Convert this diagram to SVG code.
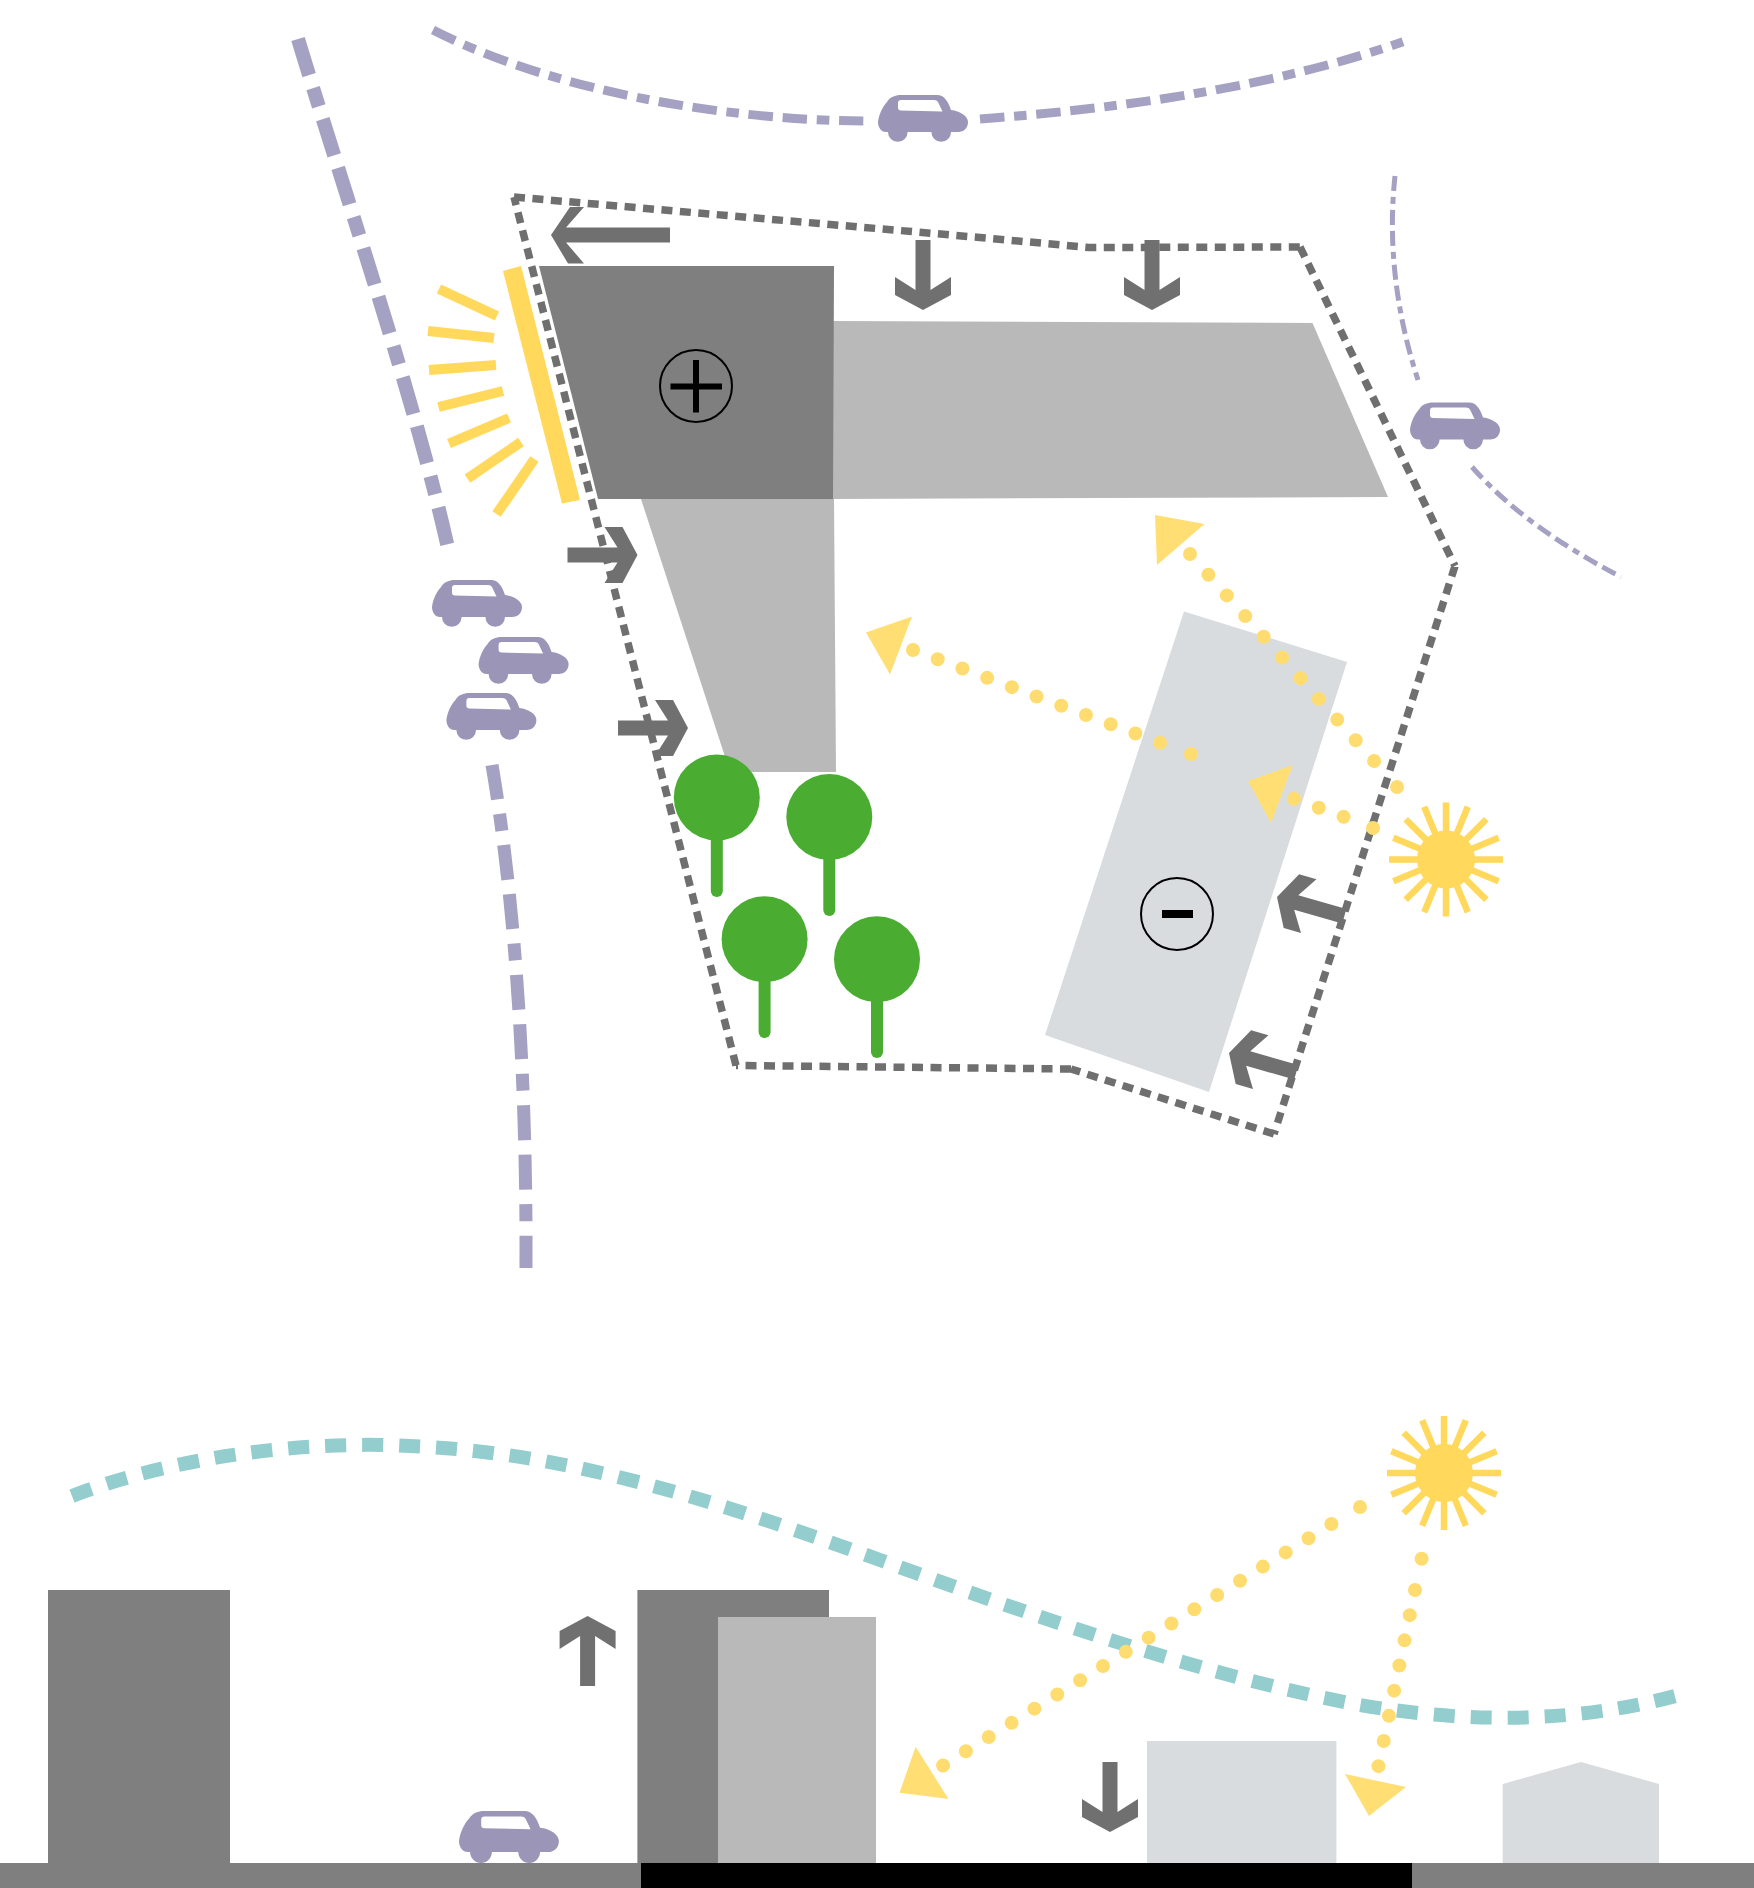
<svg xmlns="http://www.w3.org/2000/svg" xmlns:xlink="http://www.w3.org/1999/xlink" width="1754" height="1888" viewBox="0 0 1754 1888">
<style>
.road{fill:none;stroke:#a5a1c2}
.r1{stroke-width:14;stroke-dasharray:38 13.5 19 13.5 38 13}
.r1b{stroke-width:13;stroke-dasharray:35 14.5 17 14.5 35 14.5}
.r2{stroke-width:9;stroke-dasharray:24.5 9.7 12.5 9.7 24.5 9.7}
.r3{stroke-width:5;stroke-dasharray:15 6 7 6 15 6}
.site{fill:none;stroke:#6f6f6f;stroke-width:7.5;stroke-dasharray:11 7.5}
.dark{fill:#7f7f7f}.mid{fill:#b9b9b9}.pale{fill:#d8dcdf}
.arrow{fill:#707070}
.car{fill:#9b95b8}.win{fill:#fff}
.sunray{stroke:#ffd85c;stroke-width:6.5;fill:none}
.sy{fill:#ffd85c}
.bar{stroke:#ffd85c;stroke-width:10}
.dots{fill:none;stroke:#ffdc70;stroke-width:14;stroke-linecap:round}
.tri{fill:#ffdf73}
.trunk{stroke:#4aad32;stroke-width:12;stroke-linecap:round}
.leaf{fill:#4aad32}
.wind{fill:none;stroke:#94cdcd;stroke-width:14;stroke-dasharray:21 16}
.mark{fill:none;stroke:#000;stroke-width:2}
</style>
<defs>
<g id="car-s">
<path class="car" d="M0 27C1 19 5 11 9 7C12 2 17 0 23 0H59C66 0 70 6 73 15C82 16 90 21 90 27C90 33 86 37 80 37H73A9.8 9.8 0 0 1 53.4 37H29.6A9.8 9.8 0 0 1 10 37H8C3 37 0 32 0 27Z"/>
<path class="win" d="M20 8Q20 5 23 5H56Q59 5 60 7L64.5 16.5L23 15.5Q20 15.5 20 12.5Z"/>
</g>
<g id="sun-s">
<g class="sunray">
<path d="M-57 0H57M0 -57V57"/>
<path d="M-57 0H57M0 -57V57" transform="rotate(22.5)"/>
<path d="M-57 0H57M0 -57V57" transform="rotate(45)"/>
<path d="M-57 0H57M0 -57V57" transform="rotate(67.5)"/>
</g>
<circle class="sy" r="29"/>
</g>
<path id="arr70" d="M0 0L15 -28H33L20 -7.5H70V7.5H20L33 28H15Z"/>
</defs>
<rect width="1754" height="1888" fill="#fff"/>

<g id="roads">
<path class="road r1" d="M298 39C350 210 415 400 448 548"/>
<path class="road r1b" d="M492 765C510 870 527 1040 526 1268"/>
<path class="road r2" d="M433 30C550 90 720 120 864 121"/>
<path class="road r2" d="M980 119C1130 108 1280 85 1403 41.7"/>
<path class="road r3" d="M1395 176C1388 240 1395 310 1418 380"/>
<path class="road r3" d="M1472 467C1510 510 1560 545 1621 577"/>
</g>

<g id="plan-buildings">
<polygon id="volume-east" class="mid" points="833,321 1312.5,323 1388,497 833,499"/>
<polygon id="volume-south" class="mid" points="641,499 834,499 836,772 730,772"/>
<polygon id="volume-main" class="dark" points="539,266 834,266 833,499 598,499"/>
<polygon id="volume-low" class="pale" points="1184,611.4 1347,662 1209,1092 1045,1035"/>
</g>

<g id="marker-plus">
<circle class="mark" cx="696" cy="386" r="36"/>
<path d="M670.5 383.5H722V389.5H699V412.5H693V389.5H670.5V383.5ZM693 360H699V383.5H693Z" fill="#000"/>
</g>
<g id="marker-minus">
<circle class="mark" cx="1177" cy="914" r="36"/>
<rect x="1162" y="910" width="31" height="8" fill="#000"/>
</g>

<g id="noise-screen">
<polygon class="sy" points="503,271 521,266 580,500 562,503.5"/>
<g class="bar">
<line x1="439" y1="289" x2="497" y2="316"/>
<line x1="428" y1="331" x2="494" y2="338"/>
<line x1="429" y1="370" x2="496" y2="365"/>
<line x1="438.5" y1="407" x2="503" y2="391"/>
<line x1="449" y1="443.5" x2="509" y2="418"/>
<line x1="467.5" y1="478.6" x2="521" y2="442"/>
<line x1="496.5" y1="514" x2="534.5" y2="459"/>
</g>
</g>

<g id="site-boundary">
<path class="site" d="M514 197L980 237.5L1089 247.5L1300 247M1300 247L1455 566M1455 566L1274 1134M1274 1134L1071 1069M1071 1069L736 1065.5M736 1065.5L514 197"/>
</g>

<g id="access-arrows" class="arrow">
<path d="M551 235L570 207H584L566 227.5H670V242.5H566L584 263.5H568Z"/>
<use href="#arr70" transform="translate(923 310) rotate(-90)"/>
<use href="#arr70" transform="translate(1152 310) rotate(-90)"/>
<use href="#arr70" transform="translate(637.5 555) rotate(180)"/>
<use href="#arr70" transform="translate(688 728) rotate(180)"/>
<use href="#arr70" transform="translate(1277 897) rotate(16)"/>
<use href="#arr70" transform="translate(1229 1053) rotate(16)"/>
<use href="#arr70" transform="translate(587.6 1616) rotate(90)"/>
<use href="#arr70" transform="translate(1110 1832) rotate(-90)"/>
</g>

<g id="trees">
<g id="tree-1"><line class="trunk" x1="716.8" y1="800" x2="716.8" y2="891"/><circle class="leaf" cx="716.8" cy="797.5" r="43"/></g>
<g id="tree-2"><line class="trunk" x1="829.3" y1="820" x2="829.3" y2="910"/><circle class="leaf" cx="829.3" cy="817" r="43"/></g>
<g id="tree-3"><line class="trunk" x1="764.6" y1="942" x2="764.6" y2="1032"/><circle class="leaf" cx="764.6" cy="939.3" r="43"/></g>
<g id="tree-4"><line class="trunk" x1="877" y1="962" x2="877" y2="1052"/><circle class="leaf" cx="877" cy="959.3" r="43"/></g>
</g>

<g id="cars">
<use id="car-top" href="#car-s" x="878" y="95"/>
<use id="car-east" href="#car-s" x="1410" y="402.5"/>
<use id="car-west-1" href="#car-s" x="432" y="580"/>
<use id="car-west-2" href="#car-s" x="478.6" y="637"/>
<use id="car-west-3" href="#car-s" x="446.4" y="693"/>
<use id="car-section" href="#car-s" transform="translate(459 1811) scale(1.11)"/>
</g>

<g id="section">
<rect x="0" y="1863" width="1754" height="25" class="dark"/>
<rect x="641" y="1863" width="771" height="25" fill="#000"/>
<rect x="48" y="1590" width="182" height="273" class="dark"/>
<rect x="637.4" y="1590" width="191.6" height="273" class="dark"/>
<rect x="718" y="1617" width="158" height="246" class="mid"/>
<rect x="1147" y="1741" width="189.4" height="122" class="pale"/>
<polygon class="pale" points="1502.7,1784 1581,1762 1659,1784 1659,1863 1502.7,1863"/>
</g>

<g id="wind">
<path class="wind" d="M72 1496C170 1458 300 1440 410 1446C560 1452 700 1495 880 1560C1040 1618 1200 1675 1360 1705C1460 1722 1570 1725 1679 1695"/>
</g>

<use id="sun-plan" href="#sun-s" x="1446" y="859.5"/>
<use id="sun-section" href="#sun-s" x="1444" y="1473"/>

<g id="sunlight">
<path class="dots" stroke-dasharray="0 27.7" d="M1190 554L1375 762"/>
<path class="dots" d="M1397 787h.01"/>
<polygon class="tri" points="1155,515 1204.5,524 1157,565"/>
<path class="dots" stroke-dasharray="0 26.4" d="M913 650L1160.5 743"/>
<path class="dots" d="M1191 754h.01"/>
<polygon class="tri" points="866,632.5 912,616.4 890,674.6"/>
<path class="dots" stroke-dasharray="0 26.4" d="M1294 798.7L1344 817"/>
<path class="dots" d="M1373 828h.01"/>
<polygon class="tri" points="1248,781 1292.7,765 1271,822.7"/>
<path class="dots" stroke-dasharray="0 26.9" d="M1331.4 1524L943 1765.5"/>
<path class="dots" d="M1360 1507h.01"/>
<polygon class="tri" points="915.6,1746.7 899.5,1792.7 948.5,1799"/>
<path class="dots" stroke-dasharray="0 25.7" d="M1415 1590L1378 1768.5"/>
<path class="dots" d="M1421.6 1558.7h.01"/>
<polygon class="tri" points="1345,1774 1406,1787 1369,1816"/>
</g>
</svg>
